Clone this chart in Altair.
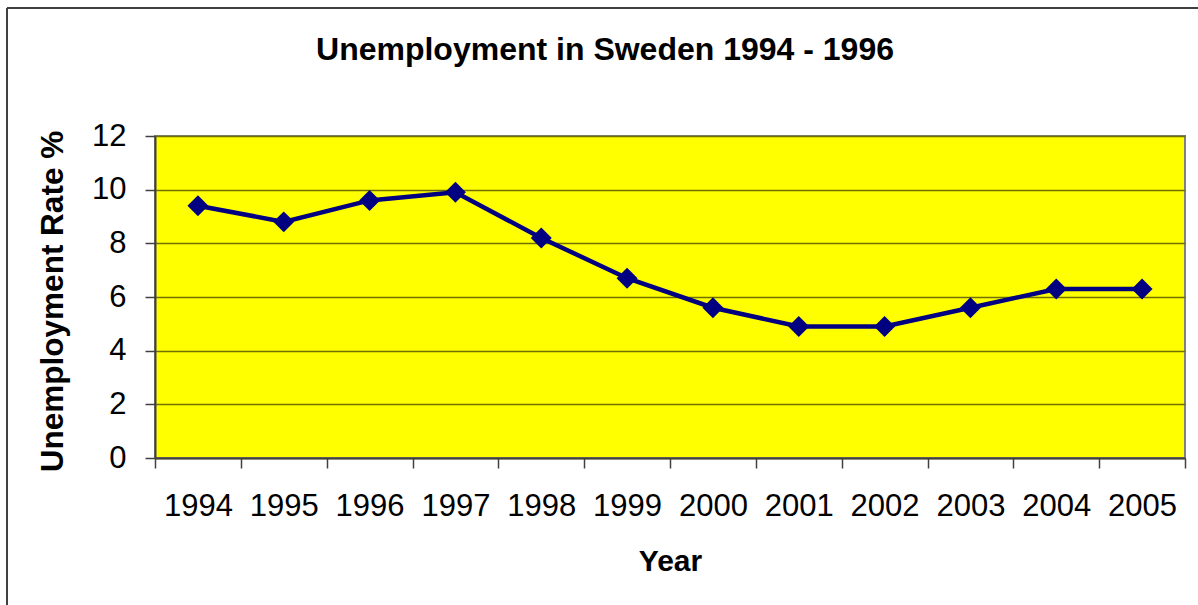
import altair as alt
import pandas as pd

years = ["1994", "1995", "1996", "1997", "1998", "1999", "2000", "2001", "2002", "2003", "2004", "2005"]
rates = [9.4, 8.8, 9.6, 9.9, 8.2, 6.7, 5.6, 4.9, 4.9, 5.6, 6.3, 6.3]
y_ticks = [0, 2, 4, 6, 8, 10, 12]
chart_title = ["Unemployment in Sweden 1994 - 1996"]

df = pd.DataFrame({"Year": years, "Rate": rates})
title_df = pd.DataFrame({"t": chart_title})

FONT = "Liberation Sans"

x_enc = alt.X(
    "Year:O",
    sort=years,
    scale=alt.Scale(type="band", paddingInner=0, paddingOuter=0),
    axis=alt.Axis(
        title="Year",
        titleFont=FONT, titleFontSize=30, titleFontWeight="bold", titleColor="black",
        titleX=515, titleY=112, titleBaseline="alphabetic", titleAlign="center",
        labelFont=FONT, labelFontSize=31, labelColor="black", labelAngle=0,
        labelBaseline="alphabetic", labelPadding=47,
        tickBand="extent", tickSize=10, tickColor="#404040", tickWidth=1.5,
        domainColor="#404040", domainWidth=2, grid=False,
    ),
)
y_enc = alt.Y(
    "Rate:Q",
    scale=alt.Scale(domain=[0, 12], nice=False, zero=True),
    axis=alt.Axis(
        values=y_ticks,
        title="Unemployment Rate %",
        titleFont=FONT, titleFontSize=31.5, titleFontWeight="bold", titleColor="black",
        titleX=-93, titleY=165, titleBaseline="alphabetic", titleAlign="center", titleAngle=270,
        labelFont=FONT, labelFontSize=31, labelColor="black", labelPadding=19,
        tickSize=10, tickColor="#404040", tickWidth=1.5,
        domainColor="#404040", domainWidth=2,
        grid=True, gridColor="#707000", gridWidth=1.5,
    ),
)

base = alt.Chart(df)
line = base.mark_line(color="#000080", strokeWidth=4.5).encode(x=x_enc, y=y_enc)
pts = base.mark_point(shape="diamond", filled=True, color="#000080", size=440, opacity=1).encode(
    x=alt.X("Year:O", sort=years), y="Rate:Q"
)

title_mark = alt.Chart(title_df).mark_text(
    font=FONT, fontSize=32, fontWeight="bold", color="black", align="center", baseline="alphabetic"
).encode(text="t:N", x=alt.value(450), y=alt.value(-76))

frame_v = base.mark_rule(color="#404040", strokeWidth=2).encode(
    x=alt.value(-148), y=alt.value(-128), y2=alt.value(500)
)
frame_h = base.mark_rule(color="#404040", strokeWidth=2).encode(
    x=alt.value(-148), x2=alt.value(1100), y=alt.value(-128)
)

chart = (
    alt.layer(line, pts, title_mark, frame_v, frame_h)
    .properties(
        width=1030,
        height=322,
        autosize=alt.AutoSizeParams(type="none"),
        padding={"left": 155, "top": 136, "right": 13, "bottom": 147},
        background="white",
    )
    .configure_view(fill="#FFFF00", stroke="#808080", strokeWidth=2)
)

chart.save("out.html", embed_options={"renderer": "svg", "actions": False})
